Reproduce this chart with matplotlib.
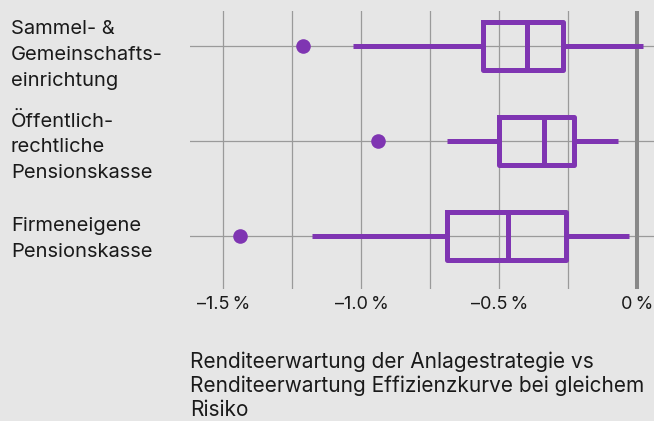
import matplotlib.pyplot as plt
from matplotlib.transforms import ScaledTranslation

plt.rcParams['font.family'] = ['Inter', 'DejaVu Sans']

categories = ["Sammel- &\nGemeinschafts-\neinrichtung",
              "Öffentlich-\nrechtliche\nPensionskasse",
              "Firmeneigene\nPensionskasse"]
whisker_low = [-1.03, -0.69, -1.18]
q1 = [-0.56, -0.50, -0.69]
median = [-0.40, -0.34, -0.47]
q3 = [-0.27, -0.23, -0.26]
whisker_high = [0.02, -0.07, -0.03]
outliers = [-1.21, -0.94, -1.44]

grid_ticks = [-1.5, -1.25, -1.0, -0.75, -0.5, -0.25, 0]
tick_labels = ["–1.5\u2009%", "", "–1.0\u2009%", "", "–0.5\u2009%", "", "0\u2009%"]

purple = '#7f35b2'
bg = '#e6e6e6'
txt = '#1a1a1a'

stats = []
for i in range(len(categories)):
    stats.append(dict(whislo=whisker_low[i], q1=q1[i], med=median[i], q3=q3[i],
                      whishi=whisker_high[i], fliers=[outliers[i]]))

fig = plt.figure(figsize=(6.54, 4.21), dpi=100, facecolor=bg)
ax = fig.add_axes([190 / 654, 1 - 289 / 421, 1 - 190 / 654, 278 / 421])
ax.set_facecolor(bg)

ax.bxp(stats, positions=range(len(categories)), orientation='horizontal',
       widths=0.5, showcaps=False, patch_artist=False,
       boxprops=dict(color=purple, linewidth=3.6),
       medianprops=dict(color=purple, linewidth=3.6),
       whiskerprops=dict(color=purple, linewidth=3.6, solid_capstyle='butt'),
       flierprops=dict(marker='o', markerfacecolor=purple, markeredgecolor='none',
                       markersize=10.5))

ax.axvline(0, color='#888888', linewidth=2.9, zorder=1.5)

ax.set_xlim(-1.621, 0.06)
ax.set_ylim(2.558, -0.368)
ax.set_xticks(grid_ticks, tick_labels)
ax.set_yticks(range(len(categories)), categories)
ax.grid(True, color='#9a9a9a', linewidth=0.9)
ax.set_axisbelow(True)
for s in ax.spines.values():
    s.set_visible(False)
ax.tick_params(axis='both', length=0, colors=txt)
ax.tick_params(axis='x', pad=5, labelsize=13)
ax.tick_params(axis='y', pad=129, labelsize=14.5)
for lab in ax.get_yticklabels():
    lab.set_horizontalalignment('left')
    lab.set_linespacing(1.55)
# first label sits a little below its row in the original
first = ax.get_yticklabels()[0]
first.set_transform(first.get_transform() + ScaledTranslation(0, -0.03, fig.dpi_scale_trans))
last = ax.get_yticklabels()[-1]
last.set_transform(last.get_transform() + ScaledTranslation(0, 0.03, fig.dpi_scale_trans))

fig.text(190 / 654, 1 - 351 / 421,
         "Renditeerwartung der Anlagestrategie vs\n"
         "Renditeerwartung Effizienzkurve bei gleichem\nRisiko",
         ha='left', va='top', fontsize=15, color=txt, linespacing=1.25)

fig.savefig('out.png', dpi=100, facecolor=bg)
